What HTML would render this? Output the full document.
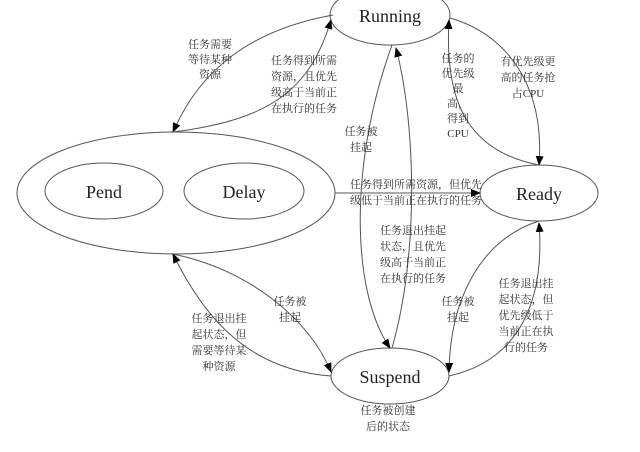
<!DOCTYPE html>
<html><head><meta charset="utf-8"><style>
html,body{margin:0;padding:0;background:#fff;}
svg{display:block;}
.t{font-family:"Liberation Serif","Noto Serif CJK SC","Noto Sans CJK SC",serif;font-size:11px;fill:#333;}
.s{font-family:"Liberation Serif","DejaVu Serif",serif;font-size:18px;fill:#222;}
</style></head><body>
<svg width="640" height="452" viewBox="0 0 640 452" xmlns="http://www.w3.org/2000/svg">
<defs><marker id="a" markerWidth="10" markerHeight="10" refX="9" refY="4" orient="auto" markerUnits="userSpaceOnUse"><path d="M0,0 L10,4 L0,8 Z" fill="#000"/></marker></defs>
<g fill="none" stroke="#555" stroke-width="1">
<ellipse cx="390" cy="15" rx="60" ry="30"/>
<ellipse cx="176" cy="193" rx="159" ry="61"/>
<ellipse cx="104" cy="191" rx="59" ry="28"/>
<ellipse cx="244" cy="191" rx="60" ry="28"/>
<ellipse cx="539" cy="193" rx="59" ry="28"/>
<ellipse cx="390" cy="376" rx="59" ry="28"/>
<path d="M333,15 C250,30 200,70 173,132" marker-end="url(#a)"/>
<path d="M173,132 C270,120 310,90 331,20" marker-end="url(#a)"/>
<path d="M450,18 C510,35 545,90 539,165" marker-end="url(#a)"/>
<path d="M539,165 C460,150 445,90 449,20" marker-end="url(#a)"/>
<path d="M335,193 L480,193" marker-end="url(#a)"/>
<path d="M392,45 C350,160 350,290 390,348" marker-end="url(#a)"/>
<path d="M392,348 C420,250 415,120 396,48" marker-end="url(#a)"/>
<path d="M173,254 C250,270 310,320 331,372" marker-end="url(#a)"/>
<path d="M331,376 C250,370 205,320 173,254" marker-end="url(#a)"/>
<path d="M539,221 C480,240 450,300 449,372" marker-end="url(#a)"/>
<path d="M449,376 C520,360 545,300 539,223" marker-end="url(#a)"/>
</g>
<text class="s" x="390" y="22" text-anchor="middle">Running</text>
<text class="s" x="104" y="198" text-anchor="middle">Pend</text>
<text class="s" x="244" y="198" text-anchor="middle">Delay</text>
<text class="s" x="539" y="200" text-anchor="middle">Ready</text>
<text class="s" x="390" y="383" text-anchor="middle">Suspend</text>
<g class="t" text-anchor="middle">
<text x="210" y="48">任务需要</text><text x="210" y="63">等待某种</text><text x="210" y="78">资源</text>
<text x="304" y="64">任务得到所需</text><text x="304" y="80">资源，且优先</text><text x="304" y="96">级高于当前正</text><text x="304" y="112">在执行的任务</text>
<text x="361" y="135">任务被</text><text x="361" y="151">挂起</text>
<text x="458" y="62">任务的</text><text x="458" y="77">优先级</text><text x="458" y="92">最</text><text x="458" y="107">高，</text><text x="458" y="122">得到</text><text x="458" y="137">CPU</text>
<text x="528" y="65">有优先级更</text><text x="528" y="81">高的任务抢</text><text x="528" y="97">占CPU</text>
<text x="416" y="188">任务得到所需资源，但优先</text><text x="416" y="204">级低于当前正在执行的任务</text>
<text x="413" y="234">任务退出挂起</text><text x="413" y="250">状态，且优先</text><text x="413" y="266">级高于当前正</text><text x="413" y="282">在执行的任务</text>
<text x="290" y="305">任务被</text><text x="290" y="321">挂起</text>
<text x="219" y="322">任务退出挂</text><text x="219" y="338">起状态，但</text><text x="219" y="354">需要等待某</text><text x="219" y="370">种资源</text>
<text x="458" y="305">任务被</text><text x="458" y="321">挂起</text>
<text x="526" y="287">任务退出挂</text><text x="526" y="303">起状态，但</text><text x="526" y="319">优先级低于</text><text x="526" y="335">当前正在执</text><text x="526" y="351">行的任务</text>
<text x="388" y="414">任务被创建</text><text x="388" y="430">后的状态</text>
</g>
</svg>
</body></html>
